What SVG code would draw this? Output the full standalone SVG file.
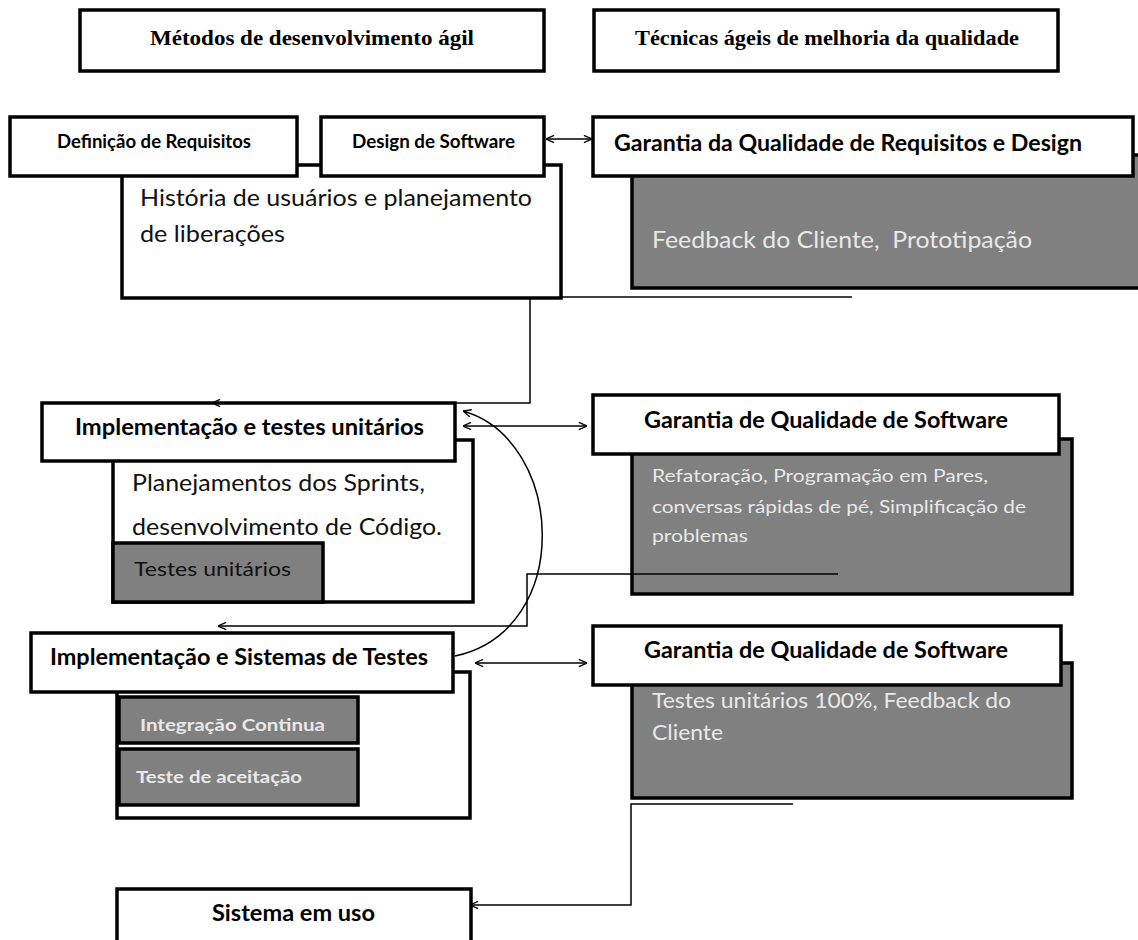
<svg xmlns="http://www.w3.org/2000/svg" width="1138" height="940" viewBox="0 0 1138 940">
<style>
.box{fill:#fff;stroke:#000;stroke-width:3.5}
.grey{fill:#808080;stroke:#000;stroke-width:3.5}
.serif{font-family:"Liberation Serif","Times New Roman",serif;font-weight:bold;font-size:21px;fill:#000}
.hd{font-family:Lato,"Liberation Sans",sans-serif;font-weight:bold;fill:#000}
.body{font-family:Lato,"Liberation Sans",sans-serif;fill:#111}
.lt{font-family:Lato,"Liberation Sans",sans-serif;fill:#e8e8e8}
.con{fill:none;stroke:#000;stroke-width:1.5}
</style>
<defs>
<marker id="arr" viewBox="0 0 10 10" refX="10" refY="5" markerWidth="9" markerHeight="9" markerUnits="userSpaceOnUse" orient="auto-start-reverse">
<path d="M1,1 L10,5 L1,9" fill="none" stroke="#000" stroke-width="1.5"/>
</marker>
</defs>

<g id="col-metodos">
<rect class="box" x="80" y="10" width="464" height="61"/>
<text class="serif" x="150" y="45" textLength="324" lengthAdjust="spacingAndGlyphs">Métodos de desenvolvimento ágil</text>
</g>
<g id="col-tecnicas">
<rect class="box" x="594" y="10" width="464" height="61"/>
<text class="serif" x="635" y="45" textLength="384" lengthAdjust="spacingAndGlyphs">Técnicas ágeis de melhoria da qualidade</text>
</g>

<g id="historia">
<rect class="box" x="122" y="165" width="439" height="133"/>
<text class="body" x="140" y="206" font-size="23" textLength="392" lengthAdjust="spacingAndGlyphs">História de usuários e planejamento</text>
<text class="body" x="140" y="242" font-size="23" textLength="145" lengthAdjust="spacingAndGlyphs">de liberações</text>
</g>
<g id="definicao">
<rect class="box" x="10" y="117" width="287" height="59"/>
<text class="hd" x="57" y="148" font-size="18" textLength="194" lengthAdjust="spacingAndGlyphs">Definição de Requisitos</text>
</g>
<g id="design">
<rect class="box" x="321" y="117" width="223" height="59"/>
<text class="hd" x="352" y="148" font-size="18" textLength="163" lengthAdjust="spacingAndGlyphs">Design de Software</text>
</g>

<g id="qa-requisitos">
<rect class="grey" x="632" y="155" width="520" height="133"/>
<rect class="box" x="593" y="117" width="540" height="59"/>
<text class="hd" x="614" y="151" font-size="22" textLength="468" lengthAdjust="spacingAndGlyphs">Garantia da Qualidade de Requisitos e Design</text>
<text class="lt" x="652" y="248" font-size="23" textLength="380" lengthAdjust="spacingAndGlyphs" style="white-space:pre">Feedback do Cliente,  Prototipação</text>
</g>

<g id="impl-testes">
<rect class="box" x="113" y="440" width="360" height="162"/>
<text class="body" x="132" y="491" font-size="23" textLength="293" lengthAdjust="spacingAndGlyphs">Planejamentos dos Sprints,</text>
<text class="body" x="132" y="535" font-size="23" textLength="310" lengthAdjust="spacingAndGlyphs">desenvolvimento de Código.</text>
<rect class="box" x="42" y="403" width="413" height="58"/>
<text class="hd" x="75" y="435" font-size="22" textLength="349" lengthAdjust="spacingAndGlyphs">Implementação e testes unitários</text>
<rect class="grey" x="113" y="543" width="210" height="59"/>
<text class="body" x="134" y="576" font-size="20" fill="#1a1a1a" textLength="157" lengthAdjust="spacingAndGlyphs">Testes unitários</text>
</g>

<g id="qa-software-1">
<rect class="grey" x="632" y="439" width="440" height="155"/>
<rect class="box" x="593" y="395" width="466" height="59"/>
<text class="hd" x="644" y="428" font-size="22" textLength="364" lengthAdjust="spacingAndGlyphs">Garantia de Qualidade de Software</text>
<text class="lt" x="652" y="482" font-size="18" textLength="336" lengthAdjust="spacingAndGlyphs">Refatoração, Programação em Pares,</text>
<text class="lt" x="652" y="513" font-size="18" textLength="374" lengthAdjust="spacingAndGlyphs">conversas rápidas de pé, Simplificação de</text>
<text class="lt" x="652" y="542" font-size="18" textLength="96" lengthAdjust="spacingAndGlyphs">problemas</text>
</g>

<g id="impl-sistemas">
<rect class="box" x="117" y="672" width="353" height="146"/>
<rect class="box" x="31" y="633" width="422" height="59"/>
<text class="hd" x="50" y="665" font-size="22" textLength="378" lengthAdjust="spacingAndGlyphs">Implementação e Sistemas de Testes</text>
<rect class="grey" x="119" y="697" width="239" height="46"/>
<text class="lt" x="140" y="731" font-size="17" font-weight="bold" textLength="185" lengthAdjust="spacingAndGlyphs">Integração Continua</text>
<rect class="grey" x="119" y="749" width="239" height="56"/>
<text class="lt" x="136" y="783" font-size="17" font-weight="bold" textLength="166" lengthAdjust="spacingAndGlyphs">Teste de aceitação</text>
</g>

<g id="qa-software-2">
<rect class="grey" x="632" y="663" width="440" height="135"/>
<rect class="box" x="593" y="626" width="468" height="59"/>
<text class="hd" x="644" y="658" font-size="22" textLength="364" lengthAdjust="spacingAndGlyphs">Garantia de Qualidade de Software</text>
<text class="lt" x="652" y="708" font-size="22" textLength="359" lengthAdjust="spacingAndGlyphs">Testes unitários 100%, Feedback do</text>
<text class="lt" x="652" y="740" font-size="22" textLength="71" lengthAdjust="spacingAndGlyphs">Cliente</text>
</g>

<g id="sistema-uso">
<rect class="box" x="117" y="889" width="354" height="70"/>
<text class="hd" x="212" y="921" font-size="22" textLength="163" lengthAdjust="spacingAndGlyphs">Sistema em uso</text>
</g>

<g id="connectors">
<line class="con" x1="546" y1="139" x2="592" y2="139" marker-start="url(#arr)" marker-end="url(#arr)"/>
<line class="con" x1="561" y1="297" x2="852" y2="297"/>
<polyline class="con" points="530,298 530,403 212,403" marker-end="url(#arr)"/>
<line class="con" x1="463" y1="426" x2="587" y2="426" marker-start="url(#arr)" marker-end="url(#arr)"/>
<path class="con" d="M455,656 C575,630 565,440 463,411" marker-end="url(#arr)"/>
<polyline class="con" points="838,574 527,574 527,626 218,626" marker-end="url(#arr)"/>
<line class="con" x1="475" y1="663" x2="587" y2="663" marker-start="url(#arr)" marker-end="url(#arr)"/>
<polyline class="con" points="793,804 631,804 631,905 470,905" marker-end="url(#arr)"/>
</g>
</svg>
